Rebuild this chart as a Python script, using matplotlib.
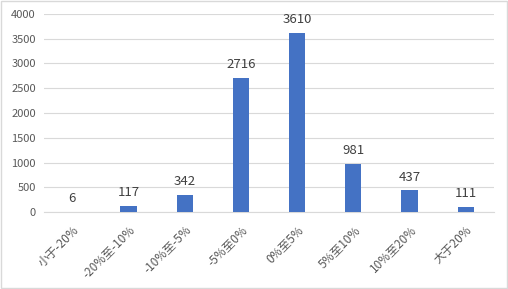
import matplotlib.pyplot as plt
import numpy as np

plt.rcParams['font.family'] = ['Noto Sans CJK SC', 'DejaVu Sans']
plt.rcParams['axes.unicode_minus'] = False

# 数据
categories = ['小于-20%', '-20%至-10%', '-10%至-5%', '-5%至0%', '0%至5%', '5%至10%', '10%至20%', '大于20%']
counts = [6, 117, 342, 2716, 3610, 981, 437, 111]
yticks = [0, 500, 1000, 1500, 2000, 2500, 3000, 3500, 4000]

fig = plt.figure(figsize=(5.08, 2.89), dpi=100)
ax = fig.add_axes([0.087, 0.266, 0.885, 0.686])

x = np.arange(len(categories))
ax.bar(x, counts, width=0.29, color='#4472C4', zorder=3)

for xi, v in zip(x, counts):
    ax.annotate(str(v), (xi, v), xytext=(0, 5), textcoords='offset points',
                ha='center', va='bottom', fontsize=9.5, color='#404040')

ax.set_xlim(-0.5, len(categories) - 0.5)
ax.set_ylim(0, 4000)
ax.set_yticks(yticks)
ax.grid(axis='y', color='#D9D9D9', linewidth=0.8, zorder=0)
for s in ['top', 'right', 'left']:
    ax.spines[s].set_visible(False)
ax.spines['bottom'].set_color('#D9D9D9')
ax.tick_params(axis='both', length=0, colors='#595959', labelsize=8)
ax.tick_params(axis='y', pad=6)
ax.tick_params(axis='x', pad=8, labelsize=8.5)
ax.set_xticks(x)
ax.set_xticklabels(categories, rotation=45, ha='right', rotation_mode='anchor')

# 外框
fig.patches.append(plt.Rectangle((0.002, 0.003), 0.996, 0.994, transform=fig.transFigure,
                                 fill=False, edgecolor='#D9D9D9', linewidth=1))

fig.savefig('out.png', dpi=100)
